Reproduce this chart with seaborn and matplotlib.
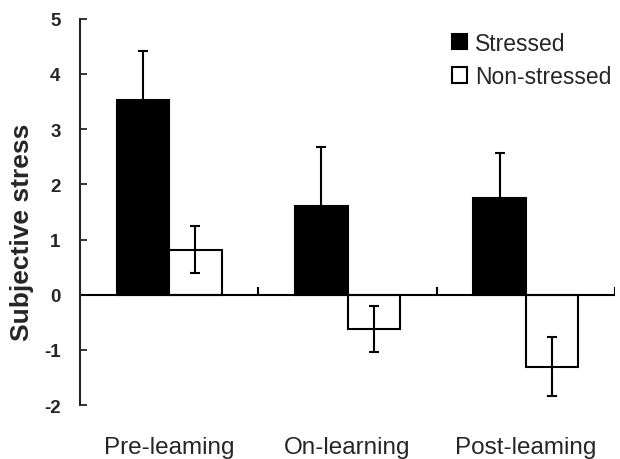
import numpy as np
import pandas as pd
import matplotlib
matplotlib.use("Agg")
import matplotlib.pyplot as plt
import seaborn as sns

# values
phases = ["Pre-leaming", "On-learning", "Post-leaming"]
groups = ["Stressed", "Non-stressed"]
stressed_mean = [3.52, 1.60, 1.75]
stressed_err = [0.90, 1.07, 0.82]
nonstressed_mean = [0.82, -0.62, -1.30]
nonstressed_err = [0.43, 0.42, 0.54]

df = pd.DataFrame({
    "phase": phases * 2,
    "group": [groups[0]] * 3 + [groups[1]] * 3,
    "value": stressed_mean + nonstressed_mean,
    "err": stressed_err + nonstressed_err,
})

sns.set_style("ticks")
plt.rcParams["font.family"] = ["Liberation Sans", "DejaVu Sans"]
plt.rcParams["axes.unicode_minus"] = False

fig = plt.figure(figsize=(6.2, 4.6), dpi=100)
ax = fig.add_axes([0.129, 0.117, 0.863, 0.840])

sns.barplot(data=df, x="phase", y="value", hue="group", order=phases,
            hue_order=groups, palette=["black", "white"], edgecolor="black",
            linewidth=1.5, width=0.59, errorbar=None, ax=ax)

# error bars on each bar centre
for patches, (name, sub) in zip(ax.containers, df.groupby("group", sort=False)):
    xs = [p.get_x() + p.get_width() / 2 for p in patches]
    ax.errorbar(xs, sub["value"], yerr=sub["err"], fmt="none", ecolor="black",
                elinewidth=1.5, capsize=3.5, capthick=1.5, zorder=3)

ax.set_xlim(-0.5, 2.5)
ax.set_ylim(-2, 5)
ax.set_yticks(range(-2, 6))
ax.tick_params(axis="y", direction="in", length=5, width=1.3, labelsize=13.5, pad=14)
for t in ax.get_yticklabels():
    t.set_fontweight("bold")
ax.tick_params(axis="x", length=0, labelsize=17.5, pad=22)

# zero line with category boundary ticks
ax.axhline(0, color="black", lw=1.5, zorder=1)
ax.vlines([0.5, 1.5, 2.5], 0, 0.14, color="black", lw=1.5)

sns.despine(ax=ax, top=True, right=True, bottom=True)
ax.spines["left"].set_linewidth(1.5)

ax.set_xlabel("")
ax.set_ylabel("Subjective stress", fontsize=19, fontweight="bold")
ax.yaxis.set_label_coords(-0.085, 0.45)

leg = ax.legend(loc="upper right", bbox_to_anchor=(1.01, 0.99), frameon=False,
                fontsize=16.5, handlelength=0.65, handleheight=0.65,
                handletextpad=0.35, labelspacing=0.45, borderaxespad=0)

fig.savefig("out.png", dpi=100)
